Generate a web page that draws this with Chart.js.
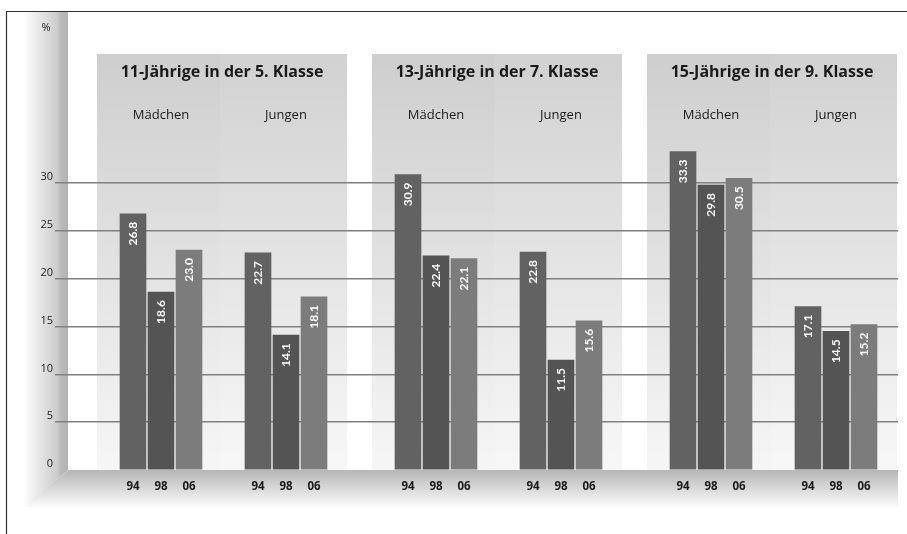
<!DOCTYPE html>
<html>
<head>
<meta charset="utf-8">
<script src="https://cdn.jsdelivr.net/npm/chart.js@4.4.1/dist/chart.umd.min.js"></script>
<style>
  html, body { margin: 0; padding: 0; background: #fff; }
  #wrap { width: 907px; height: 534px; }
</style>
</head>
<body>
<div id="wrap"><canvas id="chart" width="907" height="534"></canvas></div>
<script>
/* Raucher-Anteile nach Altersgruppe, Geschlecht und Erhebungsjahr */

const gruppen = ["11-Jährige in der 5. Klasse", "13-Jährige in der 7. Klasse", "15-Jährige in der 9. Klasse"];
const geschlechter = ["Mädchen", "Jungen"];
const jahre = ["94", "98", "06"];
// je Jahr: G1 Mädchen, G1 Jungen, G2 Mädchen, G2 Jungen, G3 Mädchen, G3 Jungen
const werte94 = [26.8, 22.7, 30.9, 22.8, 33.3, 17.1];
const werte98 = [18.6, 14.1, 22.4, 11.5, 29.8, 14.5];
const werte06 = [23.0, 18.1, 22.1, 15.6, 30.5, 15.2];
const yTicks = [0, 5, 10, 15, 20, 25, 30];

const reihen = [werte94, werte98, werte06];
const farben = ["#626262", "#545454", "#7c7c7c"];
const FONT = "'Open Sans', Lato, sans-serif";
const FONT_WERT = "Lato, 'Open Sans', sans-serif";

// Abstände in Einheiten der x-Achse (1 Einheit = 1 px)
const START = 65, GRUPPE = 275, GESCHL = 125, JAHR = 28;
const xPos = (cluster, j) => START + Math.floor(cluster / 2) * GRUPPE + (cluster % 2) * GESCHL + j * JAHR;

const alleX = [];
werte94.forEach((_, c) => jahre.forEach((_, j) => alleX.push(xPos(c, j))));
alleX.sort((a, b) => a - b);

const hintergrund = {
  id: "hintergrund",
  beforeDraw(chart) {
    const { ctx, chartArea: a, scales: { x } } = chart;
    ctx.save();
    ctx.fillStyle = "#fff";
    ctx.fillRect(0, 0, chart.width, chart.height);

    // Rahmen
    ctx.strokeStyle = "#333";
    ctx.lineWidth = 1.2;
    ctx.beginPath();
    ctx.moveTo(6.5, chart.height);
    ctx.lineTo(6.5, 11.5);
    ctx.lineTo(chart.width, 11.5);
    ctx.stroke();

    // Wand links
    let g = ctx.createLinearGradient(23, 0, a.left, 0);
    g.addColorStop(0, "#ffffff");
    g.addColorStop(0.75, "#cdcdcd");
    g.addColorStop(0.85, "#b9b9b9");
    g.addColorStop(1, "#b3b3b3");
    ctx.fillStyle = g;
    ctx.beginPath();
    ctx.moveTo(23, a.top);
    ctx.lineTo(a.left, a.top);
    ctx.lineTo(a.left, a.bottom);
    ctx.lineTo(23, a.bottom + 37);
    ctx.closePath();
    ctx.fill();

    // Boden
    g = ctx.createLinearGradient(0, a.bottom, 0, a.bottom + 37);
    g.addColorStop(0, "#b6b6b6");
    g.addColorStop(1, "#fbfbfb");
    ctx.fillStyle = g;
    ctx.beginPath();
    ctx.moveTo(a.left, a.bottom);
    ctx.lineTo(a.right, a.bottom);
    ctx.lineTo(a.right, a.bottom + 37);
    ctx.lineTo(23, a.bottom + 37);
    ctx.closePath();
    ctx.fill();

    // Gruppenfelder
    const top = 54;
    gruppen.forEach((_, i) => {
      const l = x.getPixelForValue(START - 36 + i * GRUPPE);
      const m = x.getPixelForValue(START - 36 + i * GRUPPE + 123);
      const r = x.getPixelForValue(START - 36 + i * GRUPPE + 250);
      let gl = ctx.createLinearGradient(0, top, 0, a.bottom);
      gl.addColorStop(0, "#cecece");
      gl.addColorStop(1, "#f6f6f6");
      ctx.fillStyle = gl;
      ctx.fillRect(l, top, m - l, a.bottom - top);
      let gr = ctx.createLinearGradient(0, top, 0, a.bottom);
      gr.addColorStop(0, "#d1d1d1");
      gr.addColorStop(1, "#f7f7f7");
      ctx.fillStyle = gr;
      ctx.fillRect(m, top, r - m, a.bottom - top);
    });
    ctx.restore();
  },
};

const beschriftung = {
  id: "beschriftung",
  afterDatasetsDraw(chart) {
    const { ctx, scales: { x } } = chart;
    ctx.save();

    // Werte in den Balken
    ctx.fillStyle = "#fff";
    ctx.font = "bold 12px " + FONT_WERT;
    ctx.textAlign = "right";
    ctx.textBaseline = "middle";
    chart.data.datasets.forEach((ds, di) => {
      chart.getDatasetMeta(di).data.forEach((bar, i) => {
        ctx.save();
        ctx.translate(bar.x, bar.y + 8);
        ctx.rotate(-Math.PI / 2);
        ctx.fillText(ds.data[i].y.toFixed(1), 0, 0);
        ctx.restore();
      });
    });

    // Gruppentitel und Geschlecht
    ctx.fillStyle = "#1a1a1a";
    ctx.textAlign = "center";
    gruppen.forEach((t, i) => {
      ctx.font = "bold 16px " + FONT;
      ctx.fillText(t, x.getPixelForValue(START - 36 + i * GRUPPE + 125), 72);
      ctx.font = "13px " + FONT;
      geschlechter.forEach((s, k) => {
        ctx.fillText(s, x.getPixelForValue(xPos(i * 2 + k, 1)), 115);
      });
    });

    ctx.font = "11px " + FONT;
    ctx.fillStyle = "#222";
    ctx.fillText("%", 46, 28);
    ctx.restore();
  },
};

new Chart(document.getElementById("chart"), {
  type: "bar",
  data: {
    datasets: jahre.map((j, ji) => ({
      label: j,
      data: reihen[ji].map((v, c) => ({ x: xPos(c, ji), y: v })),
      backgroundColor: farben[ji],
      grouped: false,
      barThickness: 26,
    })),
  },
  options: {
    responsive: false,
    animation: false,
    layout: { padding: { left: 0, right: 9, top: 12, bottom: 0 } },
    plugins: { legend: { display: false }, tooltip: { enabled: false } },
    scales: {
      x: {
        type: "linear",
        offset: false,
        min: 0,
        max: 830,
        afterBuildTicks: (s) => { s.ticks = alleX.map((v) => ({ value: v })); },
        afterFit: (s) => { s.height = 64; },
        grid: { display: false, drawTicks: false },
        border: { display: false },
        ticks: {
          autoSkip: false,
          maxRotation: 0,
          padding: 10,
          color: "#1a1a1a",
          font: { family: FONT, size: 11.5, weight: "bold" },
          callback: (v, i) => jahre[i % 3],
        },
      },
      y: {
        min: 0,
        max: 47.9,
        afterBuildTicks: (s) => { s.ticks = yTicks.map((v) => ({ value: v })); },
        afterFit: (s) => { s.width = 68; },
        grid: {
          color: (c) => (c.tick && c.tick.value === 0 ? "rgba(0,0,0,0)" : "#808080"),
          lineWidth: 1.5,
          tickLength: 13,
        },
        border: { display: false },
        ticks: {
          padding: 2,
          labelOffset: -6,
          color: "#222",
          font: { family: FONT, size: 11 },
        },
      },
    },
  },
  plugins: [hintergrund, beschriftung],
});
</script>
</body>
</html>
